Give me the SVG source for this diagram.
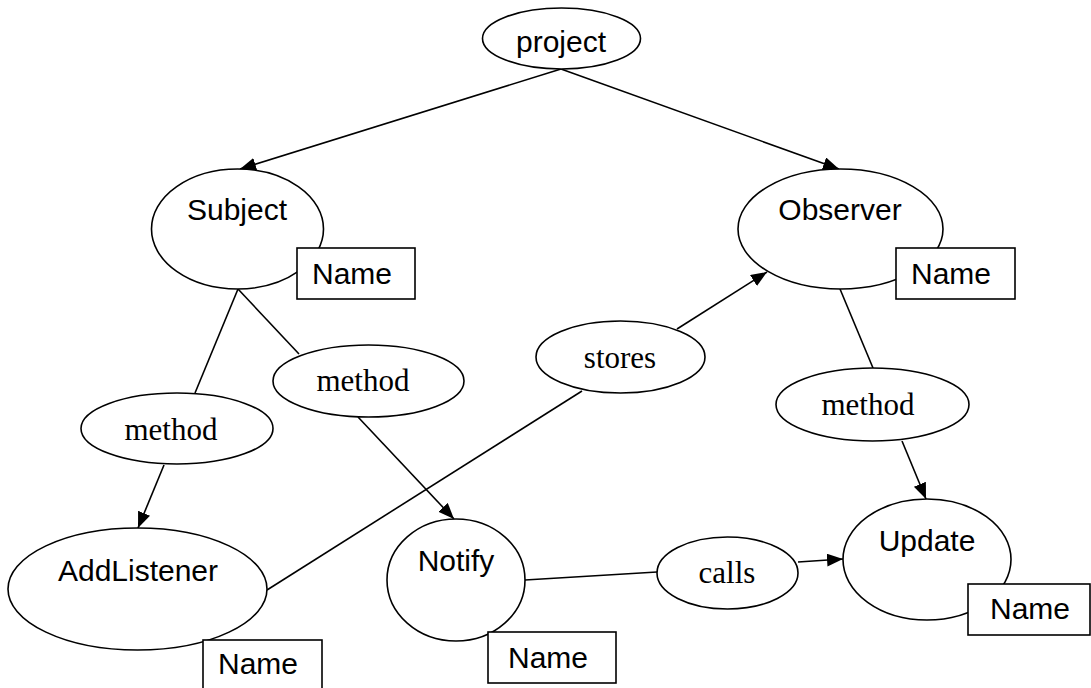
<svg xmlns="http://www.w3.org/2000/svg" width="1091" height="688" viewBox="0 0 1091 688">
<style>
.n{fill:#fff;stroke:#000;stroke-width:1.6}
.s{font-family:"Liberation Sans",Arial,sans-serif;font-size:30px;fill:#000}
.r{font-family:"Liberation Serif","Times New Roman",serif;font-size:31px;fill:#000}
.c{stroke:#000;stroke-width:1.6;fill:none}
.a{marker-end:url(#ah)}
</style>
<defs>
<marker id="ah" markerUnits="userSpaceOnUse" markerWidth="18" markerHeight="14" refX="16" refY="6.5" orient="auto">
<path d="M0,0 L16,6.5 L0,13 z" fill="#000"/>
</marker>
</defs>
<rect width="1091" height="688" fill="#fff"/>
<g id="connectors">
<line class="c a" x1="561" y1="69" x2="240" y2="169"/>
<line class="c a" x1="561" y1="69" x2="839" y2="169"/>
<line class="c" x1="238" y1="289" x2="195" y2="393"/>
<line class="c" x1="238" y1="289" x2="299" y2="354"/>
<line class="c a" x1="164" y1="465" x2="138" y2="528"/>
<line class="c a" x1="358" y1="417" x2="454" y2="519"/>
<line class="c" x1="267" y1="590" x2="582" y2="391"/>
<line class="c a" x1="677" y1="329" x2="767" y2="272"/>
<line class="c" x1="840" y1="289" x2="873" y2="368"/>
<line class="c a" x1="902" y1="441" x2="926" y2="499"/>
<line class="c" x1="525" y1="580" x2="657" y2="572"/>
<line class="c a" x1="798" y1="562" x2="843" y2="559"/>
</g>
<g id="project">
<ellipse class="n" cx="561.5" cy="38.5" rx="79" ry="30.5"/>
<text class="s" x="561" y="52" text-anchor="middle">project</text>
</g>
<g id="subject">
<ellipse class="n" cx="237.5" cy="229" rx="86" ry="60"/>
<text class="s" x="237" y="220" text-anchor="middle">Subject</text>
</g>
<g id="subject-name">
<rect class="n" x="297" y="248" width="118" height="51"/>
<text class="s" x="312" y="284">Name</text>
</g>
<g id="observer">
<ellipse class="n" cx="840.5" cy="229" rx="102.5" ry="60"/>
<text class="s" x="840" y="220" text-anchor="middle">Observer</text>
</g>
<g id="observer-name">
<rect class="n" x="896" y="248" width="119" height="51"/>
<text class="s" x="911" y="284">Name</text>
</g>
<g id="method-add">
<ellipse class="n" cx="177" cy="428.5" rx="96" ry="35.5"/>
<text class="r" x="171" y="440" text-anchor="middle">method</text>
</g>
<g id="method-notify">
<ellipse class="n" cx="368.5" cy="381" rx="95.5" ry="36"/>
<text class="r" x="363" y="391" text-anchor="middle">method</text>
</g>
<g id="stores">
<ellipse class="n" cx="620.5" cy="357" rx="84.5" ry="36"/>
<text class="r" x="620" y="368" text-anchor="middle">stores</text>
</g>
<g id="method-update">
<ellipse class="n" cx="872.5" cy="404.5" rx="96.5" ry="36.5"/>
<text class="r" x="868" y="415" text-anchor="middle">method</text>
</g>
<g id="addlistener">
<ellipse class="n" cx="137.5" cy="589" rx="129.5" ry="61"/>
<text class="s" x="138" y="581" text-anchor="middle">AddListener</text>
</g>
<g id="addlistener-name">
<rect class="n" x="203" y="640" width="119" height="52"/>
<text class="s" x="218" y="674">Name</text>
</g>
<g id="notify">
<ellipse class="n" cx="456" cy="580" rx="69" ry="61"/>
<text class="s" x="456" y="571" text-anchor="middle">Notify</text>
</g>
<g id="notify-name">
<rect class="n" x="488" y="632" width="128" height="51"/>
<text class="s" x="508" y="668">Name</text>
</g>
<g id="calls">
<ellipse class="n" cx="727.5" cy="573" rx="70.5" ry="36"/>
<text class="r" x="727" y="583" text-anchor="middle">calls</text>
</g>
<g id="update">
<ellipse class="n" cx="927" cy="559.5" rx="84" ry="60.5"/>
<text class="s" x="927" y="551" text-anchor="middle">Update</text>
</g>
<g id="update-name">
<rect class="n" x="968" y="584" width="122" height="51"/>
<text class="s" x="990" y="619">Name</text>
</g>
</svg>
